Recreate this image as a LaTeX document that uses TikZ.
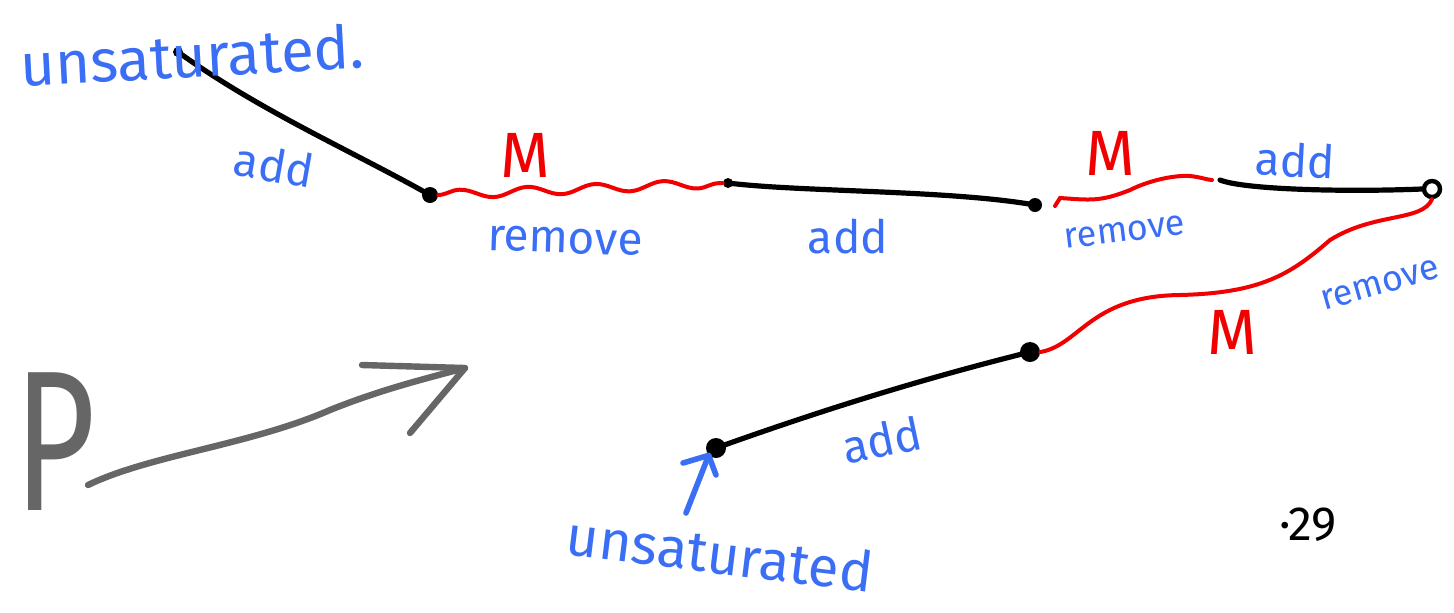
\documentclass[tikz,border=0pt]{standalone}
\usepackage{fontspec}
\setmainfont{Fira Sans}
\usetikzlibrary{arrows.meta,decorations.pathmorphing}
\definecolor{hblue}{HTML}{3A6EF5}
\definecolor{hred}{HTML}{F00000}
\definecolor{hgray}{HTML}{666666}
\begin{document}
\begin{tikzpicture}[x=0.5pt,y=-0.5pt,
  dot/.style={circle,fill=black,inner sep=0pt,minimum size=6pt},
  odot/.style={circle,draw=black,line width=2.2pt,inner sep=0pt,minimum size=8pt},
  blk/.style={line width=2.6pt,black,line cap=round},
  wav/.style={line width=2pt,hred,line cap=round},
  snk/.style={wav,decorate,decoration={snake,segment length=34pt,amplitude=2.2pt}},
  lbl/.style={text=hblue,inner sep=0pt,font=\fontsize{23}{26}\selectfont},
  slbl/.style={text=hblue,inner sep=0pt,font=\fontsize{18}{22}\selectfont},
  mlab/.style={text=hred,inner sep=0pt,font=\fontsize{32}{36}\selectfont},
  gstroke/.style={line width=3.2pt,hgray,line cap=round,line join=round},
  bstroke/.style={line width=2.8pt,hblue,line cap=round,line join=round}]
\useasboundingbox (0,0) rectangle (1454,612);
% nodes
\coordinate (s1) at (178,52);
\node[dot,minimum size=5pt] (s1d) at (s1) {};
\node[dot,minimum size=8pt] (n1) at (430,195) {};
\node[dot,minimum size=5pt] (n2) at (728,183) {};
\node[dot,minimum size=7pt] (n3) at (1035,205) {};
\coordinate (r2a) at (1055,206);
\coordinate (r2b) at (1212,180);
\coordinate (b3a) at (1220,180);
\node[odot] (n5) at (1432,189) {};
\node[dot,minimum size=10pt] (n6) at (1030,352) {};
\node[dot,minimum size=10pt] (n7) at (716,448) {};
% connectors
\draw[blk] (s1) .. controls (262,112) and (350,150) .. (n1.center);
\draw[snk] (n1.east) -- (n2.west);
\draw[blk] (n2.center) .. controls (800,192) and (950,190) .. (n3.center);
\draw[wav] (r2a) -- (1060,198) .. controls (1090,200) and (1100,202) .. (1130,190)
  .. controls (1150,180) and (1175,175) .. (1190,176) .. controls (1200,177) and (1208,180) .. (r2b);
\draw[blk] (b3a) .. controls (1245,190) and (1350,192) .. (n5.west);
\draw[wav] (n5.south) .. controls (1422,222) and (1375,212) .. (1330,240)
  .. controls (1290,275) and (1260,293) .. (1180,295)
  .. controls (1090,296) and (1080,345) .. (n6.east);
\draw[blk] (n6.center) .. controls (950,372) and (850,400) .. (n7.center);
% blue arrow
\coordinate (ua) at (686,513);
\draw[bstroke] (ua) -- (n7.south west);
\draw[bstroke] (683,463) -- (n7.south west) -- (716,475);
% labels
\node[text=hblue,inner sep=0pt,font=\fontsize{30}{34}\selectfont,rotate=3] (t1) at (192,55) {unsaturated.};
\node[lbl,rotate=-10] (l1) at (274,165) {add};
\node[mlab] (m1) at (525,155) {M};
\node[lbl,rotate=-2] (l2) at (565,241) {remove};
\node[lbl] (l3) at (848,237) {add};
\node[mlab] (m2) at (1110,153) {M};
\node[slbl,rotate=7] (l4) at (1125,232) {remove};
\node[lbl,rotate=-3] (l5) at (1295,160) {add};
\node[slbl,rotate=16] (l6) at (1380,285) {remove};
\node[mlab] (m3) at (1232,332) {M};
\node[lbl,rotate=12] (l7) at (882,440) {add};
\node[text=hblue,inner sep=0pt,font=\fontsize{28}{32}\selectfont,rotate=-7] (t2) at (720,553) {unsaturated};
\node[text=hgray,inner sep=0pt,font=\fontsize{100}{110}\selectfont,xscale=0.7] (p) at (55,442) {P};
\node[text=black,inner sep=0pt,font=\fontsize{24}{28}\selectfont] (n29) at (1308,525) {·29};
% gray arrow
\draw[gstroke] (88,485) .. controls (150,455) and (250,445) .. (330,410)
  .. controls (380,390) and (420,380) .. (465,368);
\draw[gstroke] (362,365) -- (465,368) -- (410,433);
\end{tikzpicture}
\end{document}
